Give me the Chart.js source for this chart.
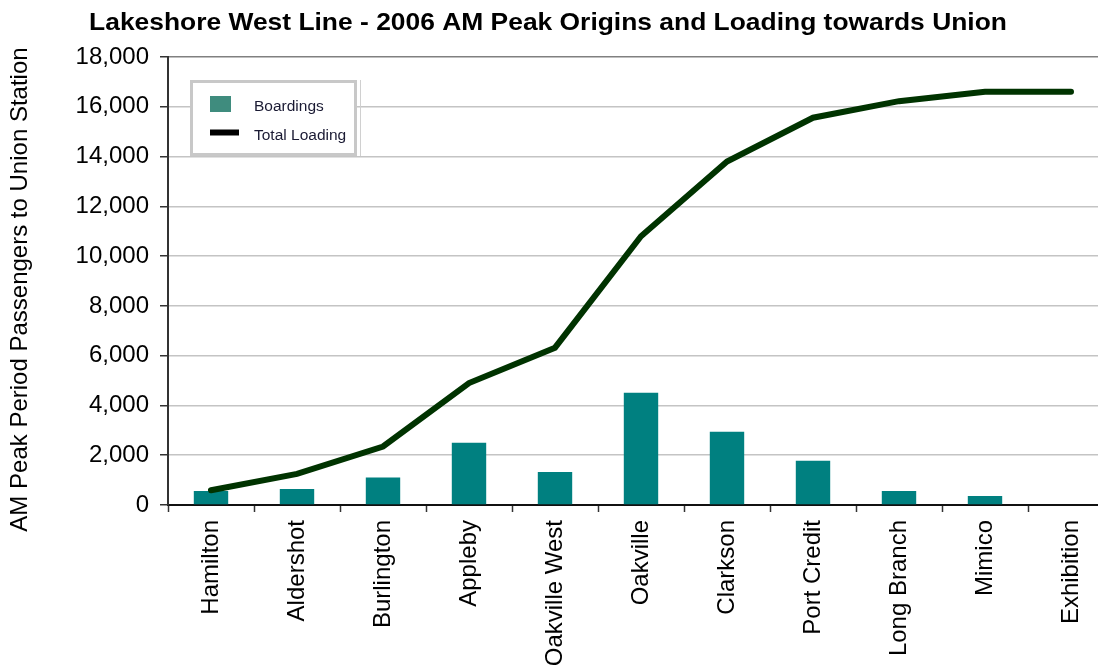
<!DOCTYPE html>
<html>
<head>
<meta charset="utf-8">
<script src="https://cdn.jsdelivr.net/npm/chart.js@4.4.1/dist/chart.umd.min.js"></script>
<style>
  html, body { margin: 0; padding: 0; background: #fff; overflow: hidden; }
  #wrap { width: 1116px; height: 668px; position: relative; }
</style>
</head>
<body>
<div id="wrap"><canvas id="c" width="1116" height="668"></canvas></div>
<script>
const chartTitle = 'Lakeshore West Line - 2006 AM Peak Origins and Loading towards Union';
const yAxisTitle = 'AM Peak Period Passengers to Union Station';
const stations = ['Hamilton', 'Aldershot', 'Burlington', 'Appleby', 'Oakville West', 'Oakville', 'Clarkson', 'Port Credit', 'Long Branch', 'Mimico', 'Exhibition'];
const boardings = [560, 645, 1100, 2500, 1330, 4515, 2940, 1775, 565, 365, 0];
const totalLoading = [590, 1250, 2350, 4900, 6320, 10800, 13800, 15560, 16225, 16600, 16600];
const seriesNames = ['Boardings', 'Total Loading'];
const yMin = 0, yMax = 18000, yStep = 2000;

const FONT = "'Liberation Sans', Arial, sans-serif";

const textPlugin = {
  id: 'customTexts',
  afterDraw(chart) {
    const ctx = chart.ctx;
    // chart title (slightly wide, as in the reference)
    ctx.save();
    ctx.fillStyle = '#000';
    ctx.font = 'bold 24px ' + FONT;
    ctx.textAlign = 'center';
    ctx.textBaseline = 'alphabetic';
    ctx.translate(548, 29.5);
    ctx.scale(1.1, 1);
    ctx.fillText(chartTitle, 0, 0);
    ctx.restore();
    // y axis title
    ctx.save();
    ctx.fillStyle = '#000';
    ctx.font = '24px ' + FONT;
    ctx.textAlign = 'center';
    ctx.textBaseline = 'alphabetic';
    ctx.translate(27, 289.5);
    ctx.rotate(-Math.PI / 2);
    ctx.fillText(yAxisTitle, 0, 0);
    ctx.restore();
  }
};

const legendPlugin = {
  id: 'boxLegend',
  afterDatasetsDraw(chart) {
    const ctx = chart.ctx;
    ctx.save();
    ctx.fillStyle = '#fff';
    ctx.fillRect(190, 80, 167, 76);
    ctx.strokeStyle = '#c8c8c8';
    ctx.lineWidth = 3;
    ctx.strokeRect(191.5, 81.5, 164, 73);
    ctx.strokeStyle = '#d0d0d0';
    ctx.lineWidth = 1;
    ctx.beginPath();
    ctx.moveTo(360.5, 80);
    ctx.lineTo(360.5, 156);
    ctx.stroke();
    ctx.fillStyle = '#3f8c7e';
    ctx.fillRect(210, 96, 21, 16);
    ctx.strokeStyle = '#000';
    ctx.lineWidth = 6;
    ctx.beginPath();
    ctx.moveTo(210, 132.5);
    ctx.lineTo(239, 132.5);
    ctx.stroke();
    ctx.fillStyle = '#1a1a33';
    ctx.font = '15.5px ' + FONT;
    ctx.textAlign = 'left';
    ctx.textBaseline = 'alphabetic';
    ctx.fillText(seriesNames[0], 254, 111);
    ctx.fillText(seriesNames[1], 254, 139.5);
    ctx.restore();
  }
};

new Chart(document.getElementById('c'), {
  type: 'bar',
  data: {
    labels: stations,
    datasets: [
      {
        type: 'line',
        label: seriesNames[1],
        data: totalLoading,
        borderColor: '#003300',
        backgroundColor: '#003300',
        borderWidth: 6,
        pointRadius: 0,
        pointHoverRadius: 0,
        tension: 0,
        borderCapStyle: 'round',
        order: 0
      },
      {
        type: 'bar',
        label: seriesNames[0],
        data: boardings,
        backgroundColor: '#008080',
        borderWidth: 0,
        barPercentage: 0.4,
        categoryPercentage: 1.0,
        order: 1
      }
    ]
  },
  options: {
    responsive: false,
    animation: false,
    devicePixelRatio: 1,
    layout: { padding: { top: 57, left: 0, right: 2, bottom: 0 } },
    plugins: {
      legend: { display: false },
      title: { display: false },
      tooltip: { enabled: false }
    },
    scales: {
      x: {
        afterFit(scale) { scale.height = 163; },
        grid: {
          display: true,
          drawOnChartArea: false,
          offset: true,
          tickLength: 7,
          tickColor: '#333',
          tickWidth: 1.5
        },
        border: { display: true, color: '#111', width: 2 },
        ticks: {
          autoSkip: false,
          maxRotation: 90,
          minRotation: 90,
          padding: 8,
          color: '#000',
          font: { family: FONT, size: 24 }
        }
      },
      y: {
        min: yMin,
        max: yMax,
        afterFit(scale) { scale.width = 168; },
        grid: {
          color: (c) => (c.tick && c.tick.value === yMax) ? '#808080' : '#c4c4c4',
          lineWidth: 1.5,
          tickLength: 8,
          tickColor: '#333',
          tickWidth: 1.5
        },
        border: { display: true, color: '#333', width: 2 },
        ticks: {
          stepSize: yStep,
          padding: 11,
          color: '#000',
          font: { family: FONT, size: 24 },
          callback: (v) => Number(v).toLocaleString('en-US')
        },
        title: { display: false }
      }
    }
  },
  plugins: [textPlugin, legendPlugin]
});
</script>
</body>
</html>
